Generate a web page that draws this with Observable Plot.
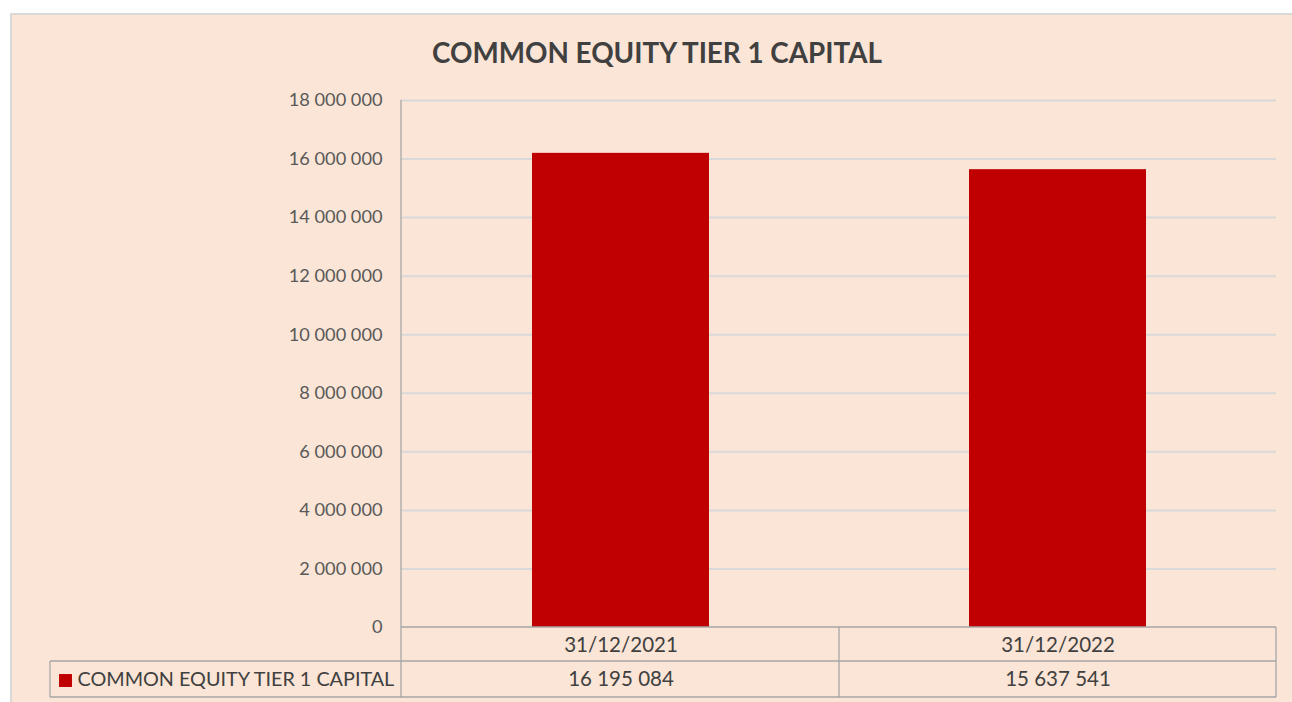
<!DOCTYPE html>
<html><head><meta charset="utf-8">
<script src="https://cdn.jsdelivr.net/npm/d3@7"></script>
<script src="https://cdn.jsdelivr.net/npm/@observablehq/plot@0.6"></script>
<style>
html,body{margin:0;padding:0;background:#fff;width:1292px;height:702px;overflow:hidden}
#panel{position:absolute;left:10px;top:13px;width:1300px;height:700px;background:#FBE5D6;border-left:2px solid #d9d9d9;border-top:2px solid #d9d9d9;box-sizing:border-box}
#title{position:absolute;left:0;width:1314px;top:35px;text-align:center;font-family:Lato,sans-serif;font-weight:bold;font-size:27.8px;color:#404040;line-height:36px}
#chart{position:absolute;left:0;top:0}
</style></head><body>
<div id="panel"></div>
<div id="title">COMMON EQUITY TIER 1 CAPITAL</div>
<div id="chart"></div>
<script>
const categories = ["31/12/2021", "31/12/2022"];
const values = [16195084, 15637541];
const seriesName = "COMMON EQUITY TIER 1 CAPITAL";
const yTicks = [0, 2000000, 4000000, 6000000, 8000000, 10000000, 12000000, 14000000, 16000000, 18000000];

const data = categories.map((c, i) => ({date: c, value: values[i]}));
const fmt = d3.formatLocale({decimal: ",", thousands: " ", grouping: [3], currency: ["", ""]}).format(",");

const lineColor = "#a6a6a6";
const font = "Lato, sans-serif";

function tableGrid(index, scales, vals, dim) {
  const x = scales.x, y = scales.y;
  const left = dim.marginLeft, right = dim.width - dim.marginRight;
  const y0 = y(0), top = y(yTicks[yTicks.length - 1]);
  const row1 = y0 + 34, row2 = y0 + 70;
  const step = x.step ? x.step() : (right - left) / categories.length;
  const g = d3.create("svg:g").attr("stroke", lineColor).attr("stroke-width", 1.3).attr("fill", "none");
  const legendLeft = 50;
  g.append("line").attr("x1", left).attr("x2", right).attr("y1", y0).attr("y2", y0);
  g.append("line").attr("x1", legendLeft).attr("x2", right).attr("y1", row1).attr("y2", row1);
  g.append("line").attr("x1", legendLeft).attr("x2", right).attr("y1", row2).attr("y2", row2);
  g.append("line").attr("x1", left).attr("x2", left).attr("y1", top).attr("y2", row2);
  g.append("line").attr("x1", legendLeft).attr("x2", legendLeft).attr("y1", row1).attr("y2", row2);
  categories.forEach((c, i) => {
    const xe = x(c) - (step - x.bandwidth()) / 2 + step;
    g.append("line").attr("x1", xe).attr("x2", xe).attr("y1", y0).attr("y2", row2);
  });
  return g.node();
}

const chart = Plot.plot({
  width: 1292,
  height: 702,
  marginLeft: 401,
  marginRight: 16,
  marginTop: 100,
  marginBottom: 75,
  style: {background: "transparent", fontFamily: font, color: "#595959", overflow: "visible"},
  x: {domain: categories, paddingInner: 0.595, paddingOuter: 0.2975, axis: null},
  y: {domain: [0, 18000000], axis: null},
  marks: [
    Plot.ruleY(yTicks.filter(d => d > 0), {stroke: "#d9d9d9", strokeWidth: 2}),
    Plot.barY(data, {x: "date", y: "value", fill: "#C00000"}),
    Plot.axisY({ticks: yTicks, tickFormat: fmt, tickSize: 0, tickPadding: 19, fontSize: 18.2, fill: "#595959", label: null}),
    tableGrid,
    Plot.text(data, {x: "date", text: "date", frameAnchor: "bottom", dy: 24, fontSize: 20.5, fill: "#404040"}),
    Plot.text(data, {x: "date", text: d => fmt(d.value), frameAnchor: "bottom", dy: 58, fontSize: 20.5, fill: "#404040"}),
    Plot.text([seriesName], {frameAnchor: "bottom-left", dx: -324, dy: 58, textAnchor: "start", fontSize: 19.8, fill: "#404040"}),
    Plot.dot([seriesName], {frameAnchor: "bottom-left", dx: -336, dy: 53, symbol: "square", r: 7.3, fill: "#C00000", stroke: null})
  ]
});
document.getElementById("chart").appendChild(chart);
</script>
</body></html>
